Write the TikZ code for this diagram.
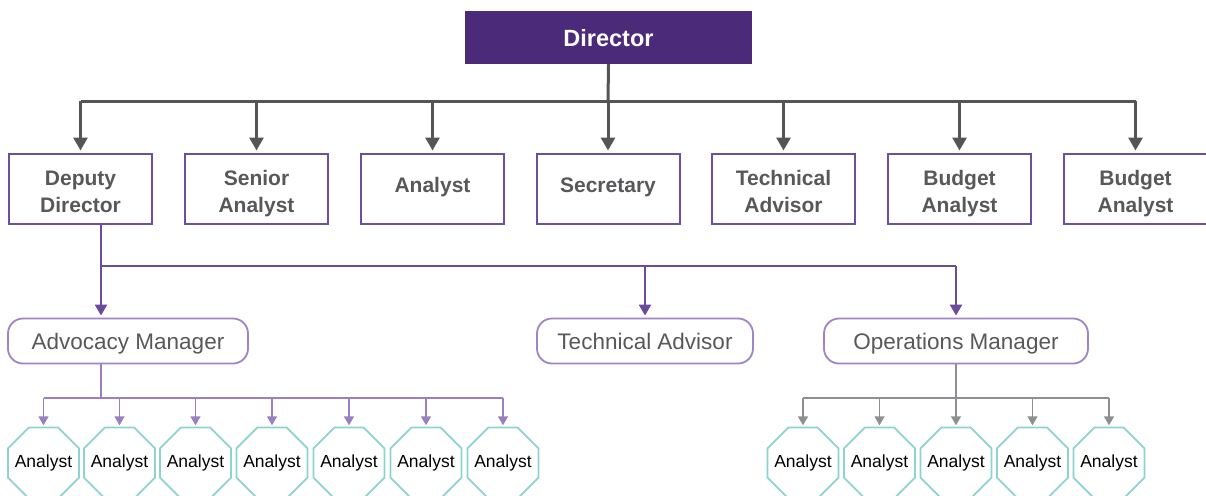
\documentclass[tikz,border=0pt]{standalone}
\usepackage{fontspec}
\setmainfont{Liberation Sans}
\usetikzlibrary{arrows.meta}
\definecolor{dirfill}{HTML}{4B2A7A}
\definecolor{darkline}{HTML}{555558}
\definecolor{boxborder}{HTML}{6E4E9E}
\definecolor{txtgray}{HTML}{58585B}
\definecolor{mgrborder}{HTML}{9E85C6}
\definecolor{purpline}{HTML}{6B4C9A}
\definecolor{lightpurp}{HTML}{9A80C0}
\definecolor{grayline}{HTML}{8E8E93}
\definecolor{tealline}{HTML}{8DD3CF}
\newcommand{\twolines}[2]{\rule{0pt}{26pt}#1\\#2\rule[-5pt]{0pt}{0pt}}
\tikzset{
  dirbox/.style={fill=dirfill, draw=none, minimum width=287pt, minimum height=53pt, inner sep=0pt,
    text=white, text height=18.6pt, text depth=0pt, font=\fontsize{23.5}{28}\selectfont\bfseries},
  topbox/.style={draw=boxborder, line width=2pt, fill=white, minimum width=143pt, minimum height=70pt,
    inner sep=0pt, text=txtgray, font=\fontsize{21}{26.5}\selectfont\bfseries},
  oneline/.style={text height=12pt, text depth=4pt},
  twoline/.style={align=center},
  mgrbox/.style={draw=mgrborder, line width=1.8pt, fill=white, rounded corners=15pt, minimum height=45pt,
    inner sep=0pt, text=txtgray, text height=16.1pt, text depth=0pt, font=\fontsize{22.5}{26}\selectfont},
  octo/.style={draw=none, minimum width=71pt, minimum height=71pt, inner sep=0pt, text=black,
    text height=9.9pt, text depth=0pt, font=\fontsize{17.5}{20}\selectfont},
  octoline/.style={draw=tealline, line width=1.8pt, line join=miter},
  toparrow/.style={draw=darkline, line width=3pt, -{Triangle[width=14pt,length=13pt]}, shorten >=2pt},
  topline/.style={draw=darkline, line width=3pt},
  ddline/.style={draw=purpline, line width=2.4pt},
  ddarrow/.style={draw=purpline, line width=2.4pt, -{Triangle[width=12pt,length=11pt]}, shorten >=2pt},
  amline/.style={draw=lightpurp, line width=1.5pt},
  amarrow/.style={draw=lightpurp, line width=1.5pt, -{Triangle[width=10pt,length=9pt]}, shorten >=2pt},
  omline/.style={draw=grayline, line width=1.5pt},
  omarrow/.style={draw=grayline, line width=1.5pt, -{Triangle[width=10pt,length=9pt]}, shorten >=2pt},
}
\begin{document}
\begin{tikzpicture}[x=1pt,y=-1pt]
\useasboundingbox (0,0) rectangle (1206,495);
\fill[white] (0,0) rectangle (1206,495);

% Director
\node[dirbox] (dir) at (608.5,37.5) {Director};

% Top row
\node[topbox,twoline] (dd) at (80.5,188.5) {\twolines{Deputy}{Director}};
\node[topbox,twoline] (sa) at (256.5,188.5) {\twolines{Senior}{Analyst}};
\node[topbox,oneline] (an) at (432.5,188.5) {Analyst};
\node[topbox,oneline] (se) at (608,188.5) {Secretary};
\node[topbox,twoline] (ta) at (783.5,188.5) {\twolines{Technical}{Advisor}};
\node[topbox,twoline] (ba1) at (959.5,188.5) {\twolines{Budget}{Analyst}};
\node[topbox,twoline] (ba2) at (1135.5,188.5) {\twolines{Budget}{Analyst}};

\coordinate (hub) at (608,101);
\draw[topline] (dir.south) -- (hub);
\draw[topline] (hub -| dd) -- (hub -| ba2);
\foreach \n in {dd,sa,an,se,ta,ba1,ba2}{
  \draw[toparrow] (hub -| \n) -- (\n.north);
}

% Managers
\node[mgrbox, minimum width=240pt] (am) at (128,341) {Advocacy Manager};
\node[mgrbox, minimum width=216pt] (tm) at (645,341) {Technical Advisor};
\node[mgrbox, minimum width=264pt] (om) at (956,341) {Operations Manager};

\coordinate (ddj) at (101,266);
\draw[ddline] (dd.south -| ddj) -- (ddj) -- (ddj -| om);
\draw[ddarrow] (ddj) -- (ddj |- am.north);
\draw[ddarrow] (ddj -| tm) -- (tm.north);
\draw[ddarrow] (ddj -| om) -- (om.north);

% Advocacy analysts
\foreach \i/\x in {1/43.5,2/119.5,3/195.5,4/272,5/349,6/426,7/503}{
  \node[octo] (a\i) at (\x,463) {Analyst};
  \draw[octoline] (a\i.center) ++(-14.7,-35.5) -- ++(29.4,0) -- ++(20.8,20.8) -- ++(0,29.4)
    -- ++(-20.8,20.8) -- ++(-29.4,0) -- ++(-20.8,-20.8) -- ++(0,-29.4) -- cycle;
}
\coordinate (amj) at (101,398);
\draw[amline] (am.south -| amj) -- (amj);
\draw[amline] (amj -| a1) -- (amj -| a7);
\foreach \i in {1,...,7}{
  \draw[amarrow] (amj -| a\i) -- (a\i.north);
}

% Operations analysts
\foreach \i/\x in {1/803,2/879.5,3/956,4/1032.5,5/1109}{
  \node[octo] (o\i) at (\x,463) {Analyst};
  \draw[octoline] (o\i.center) ++(-14.7,-35.5) -- ++(29.4,0) -- ++(20.8,20.8) -- ++(0,29.4)
    -- ++(-20.8,20.8) -- ++(-29.4,0) -- ++(-20.8,-20.8) -- ++(0,-29.4) -- cycle;
}
\coordinate (omj) at (956,398);
\draw[omline] (om.south) -- (omj);
\draw[omline] (omj -| o1) -- (omj -| o5);
\foreach \i in {1,...,5}{
  \draw[omarrow] (omj -| o\i) -- (o\i.north);
}
\end{tikzpicture}
\end{document}
